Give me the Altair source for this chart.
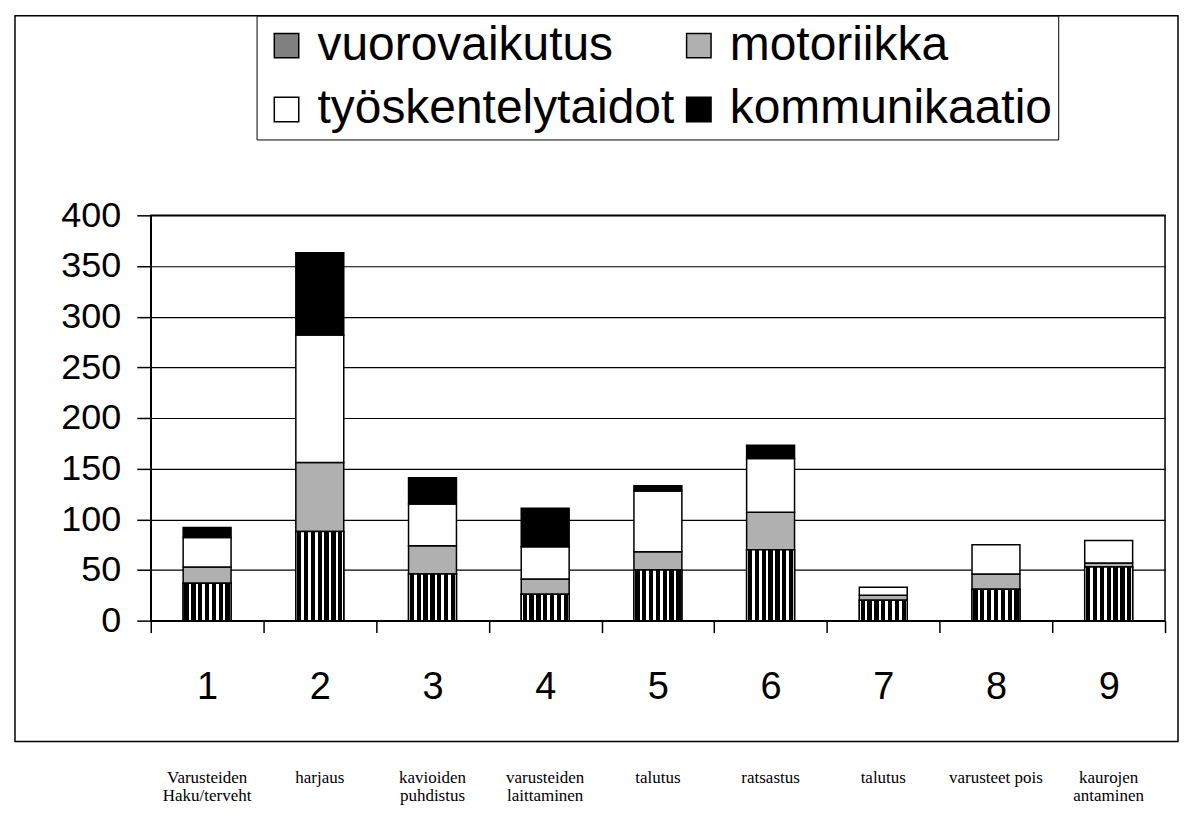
import altair as alt
import pandas as pd

categories = ["1", "2", "3", "4", "5", "6", "7", "8", "9"]
descriptions = [
    "Varusteiden\nHaku/terveht",
    "harjaus",
    "kavioiden\npuhdistus",
    "varusteiden\nlaittaminen",
    "talutus",
    "ratsastus",
    "talutus",
    "varusteet pois",
    "kaurojen\nantaminen",
]
series = ["vuorovaikutus", "motoriikka", "työskentelytaidot", "kommunikaatio"]
vuorovaikutus = [37, 88, 46, 26, 50, 70, 20, 31, 53]
motoriikka = [16, 68, 28, 15, 18, 37, 5, 15, 4]
tyoskentelytaidot = [29, 126, 41, 32, 60, 53, 8, 29, 22]
kommunikaatio = [10, 81, 26, 38, 5, 13, 0, 0, 0]
y_ticks = [0, 50, 100, 150, 200, 250, 300, 350, 400]
fill_colors = ["#808080", "#b0b0b0", "#ffffff", "#000000"]

rows = []
for i, c in enumerate(categories):
    for j, vals in enumerate([vuorovaikutus, motoriikka, tyoskentelytaidot, kommunikaatio]):
        rows.append({"cat": c, "series": series[j], "order": j, "value": vals[i]})
df = pd.DataFrame(rows)
desc_df = pd.DataFrame({"cat": categories, "desc": descriptions})

FONT = "Liberation Sans"

x_enc = alt.X(
    "cat:N", sort=categories, title=None,
    scale=alt.Scale(paddingInner=0, paddingOuter=0),
    axis=alt.Axis(labelAngle=0, labelFont=FONT, labelFontSize=38, labelColor="black",
                  tickSize=12, tickColor="black", tickWidth=1.5, tickBand="extent",
                  domainColor="black", domainWidth=1.5, labelPadding=36, grid=False),
)
y_axis = alt.Axis(values=y_ticks, labelFont=FONT, labelFontSize=36, labelColor="black",
                  tickSize=14, tickColor="black", tickWidth=1.5,
                  domainColor="black", domainWidth=1.5,
                  gridColor="black", gridWidth=1.2, labelPadding=16)
y_scale = alt.Scale(domain=[0, 400])

# vertical stripe gradient for 'vuorovaikutus'
stops = []
n = 7
w = 0.09
for k in range(n):
    cpos = (k + 0.5) / n
    a, b = cpos - w / 2, cpos + w / 2
    stops += [alt.GradientStop(color="white", offset=max(a, 0)),
              alt.GradientStop(color="black", offset=max(a, 0)),
              alt.GradientStop(color="black", offset=min(b, 1)),
              alt.GradientStop(color="white", offset=min(b, 1))]
stripe_grad = alt.LinearGradient(gradient="linear", x1=0, x2=1, y1=0, y2=0, stops=stops)

base = alt.Chart(df).transform_filter(alt.datum.value > 0).mark_bar(
    size=48, stroke="black", strokeWidth=1.5
).encode(
    x=x_enc,
    y=alt.Y("value:Q", stack="zero", scale=y_scale, title=None, axis=y_axis),
    fill=alt.Fill("series:N", scale=alt.Scale(domain=series, range=fill_colors),
                  legend=alt.Legend(title=None, orient="none", legendX=106, legendY=-200,
                                    columns=2, direction="horizontal", gridAlign="all",
                                    symbolType="square", symbolSize=600,
                                    symbolStrokeColor="black", symbolStrokeWidth=1.5,
                                    labelFont=FONT, labelFontSize=48, labelColor="black",
                                    labelOffset=7, labelLimit=1000,
                                    strokeColor="black", fillColor="white",
                                    padding=6, columnPadding=0, rowPadding=16)),
    order=alt.Order("order:Q"),
)

stripes = alt.Chart(df).transform_filter(alt.datum.series == "vuorovaikutus").mark_bar(
    size=48, fill=stripe_grad, stroke="black", strokeWidth=1.5
).encode(
    x=x_enc,
    y=alt.Y("value:Q", scale=y_scale, title=None, axis=y_axis),
)

desc = alt.Chart(desc_df).mark_text(
    font="Liberation Serif", fontSize=17, baseline="top", lineBreak="\n",
    lineHeight=18, color="black"
).encode(
    x=x_enc,
    y=alt.value(556),
    text="desc:N",
)

frame = alt.Chart(pd.DataFrame({"f": [0]})).mark_rect(
    filled=False, stroke="black", strokeWidth=1.5
).encode(
    x=alt.value(-136), x2=alt.value(1029), y=alt.value(-200), y2=alt.value(527)
)

chart = alt.layer(frame, base, stripes, desc).properties(
    width=1016, height=406,
    padding={"left": 6, "top": 6, "right": 0, "bottom": 0},
    background="white",
).configure_view(stroke="black", strokeWidth=1.5)

chart.save("out.html", embed_options={"renderer": "svg", "actions": False})
